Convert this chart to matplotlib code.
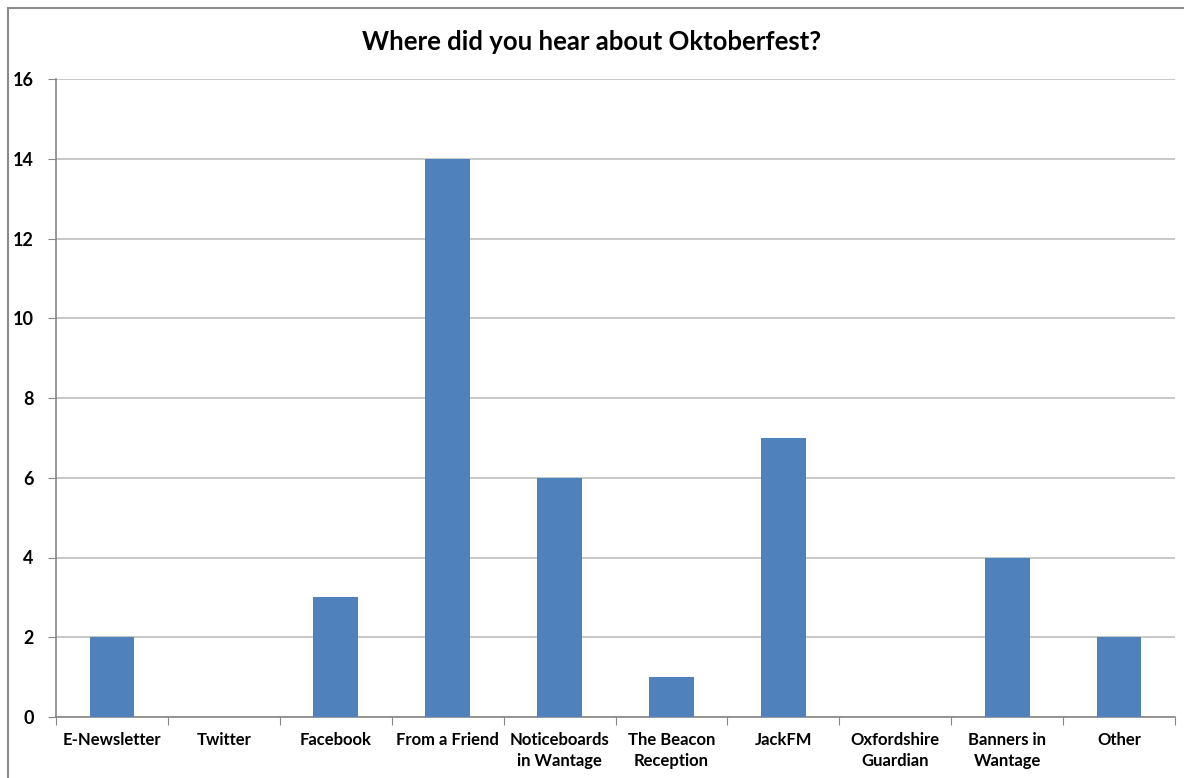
"""Grafica de barras: Where did you hear about Oktoberfest?"""

import matplotlib.pyplot as plt
from matplotlib.patches import Rectangle

# ── Datos ─────────────────────────────────────────────────────────────────────

CATEGORIAS = [
    "E-Newsletter", "Twitter", "Facebook", "From a Friend",
    "Noticeboards\nin Wantage", "The Beacon\nReception", "JackFM",
    "Oxfordshire\nGuardian", "Banners in\nWantage", "Other",
]
VALORES = [2, 0, 3, 14, 6, 1, 7, 0, 4, 2]
TICKS_Y = [0, 2, 4, 6, 8, 10, 12, 14, 16]

COLOR_BARRA = "#4F81BD"
COLOR_REJILLA = "#BFBFBF"
COLOR_EJE = "#868686"

plt.rcParams["font.family"] = ["Lato", "DejaVu Sans"]

figura = plt.figure(figsize=(11.84, 7.78), dpi=100)
eje = figura.add_axes([56 / 1184, 1 - 717 / 778, (1175 - 56) / 1184, (717 - 79) / 778])

posiciones = range(len(CATEGORIAS))
eje.bar(posiciones, VALORES, width=0.4, color=COLOR_BARRA, zorder=3)

eje.set_xlim(-0.5, len(CATEGORIAS) - 0.5)
eje.set_ylim(0, 16)
eje.set_yticks(TICKS_Y)
eje.set_yticklabels([str(v) for v in TICKS_Y], fontsize=13, fontweight="bold")
eje.yaxis.grid(True, color=COLOR_REJILLA, linewidth=1.2, zorder=0)

# ticks x en los limites de categoria, etiquetas centradas
eje.set_xticks([i - 0.5 for i in range(len(CATEGORIAS) + 1)])
eje.set_xticklabels([])
eje.set_xticks(list(posiciones), minor=True)
eje.set_xticklabels(CATEGORIAS, minor=True, fontsize=12, fontweight="bold",
                    linespacing=1.4, va="top")
eje.tick_params(axis="x", which="minor", length=0, pad=11)
eje.tick_params(axis="x", which="major", length=6, color=COLOR_EJE, direction="out")
eje.tick_params(axis="y", length=6, color=COLOR_EJE, pad=10)

for lado in ("top", "right"):
    eje.spines[lado].set_visible(False)
for lado in ("left", "bottom"):
    eje.spines[lado].set_color(COLOR_EJE)
    eje.spines[lado].set_linewidth(1.2)

figura.text(0.5, 1 - 42 / 778, "Where did you hear about Oktoberfest?",
            ha="center", va="center", fontsize=18.5, fontweight="bold")

# borde del area del grafico (recortado a la derecha y abajo)
figura.patches.append(Rectangle(
    (8 / 1184, -0.05), 1.1, 1.05 - 8 / 778,
    transform=figura.transFigure, fill=False, edgecolor="#8C8C8C", linewidth=1.5,
))

figura.savefig("out.png", dpi=100)
